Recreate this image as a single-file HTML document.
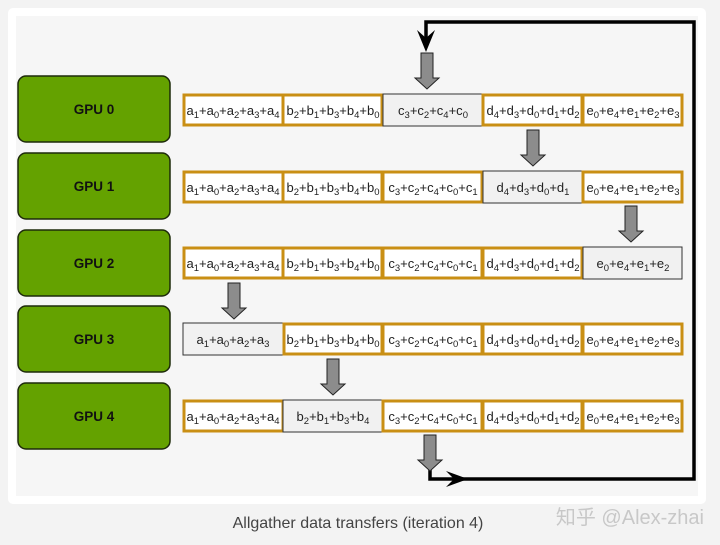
<!DOCTYPE html>
<html><head><meta charset="utf-8"><style>
body{margin:0;background:#f3f3f3;width:720px;height:545px;overflow:hidden}
svg{display:block}
</style></head><body>
<svg width="720" height="545" xmlns="http://www.w3.org/2000/svg" font-family="Liberation Sans, sans-serif">
<rect x="0" y="0" width="720" height="545" fill="#f3f3f3"/>
<rect x="8" y="8" width="698" height="496" rx="5" fill="#ffffff"/>
<rect x="16" y="16" width="682" height="480" fill="#f6f6f6"/>
<g id="gpus" font-weight="bold" font-size="13.5" text-anchor="middle" fill="#111">
<rect x="18" y="76" width="152" height="66" rx="8" fill="#64a200" stroke="#1d2a0a" stroke-width="1.5"/><text x="94" y="114">GPU 0</text>
<rect x="18" y="153" width="152" height="66" rx="8" fill="#64a200" stroke="#1d2a0a" stroke-width="1.5"/><text x="94" y="191">GPU 1</text>
<rect x="18" y="230" width="152" height="66" rx="8" fill="#64a200" stroke="#1d2a0a" stroke-width="1.5"/><text x="94" y="268">GPU 2</text>
<rect x="18" y="306" width="152" height="66" rx="8" fill="#64a200" stroke="#1d2a0a" stroke-width="1.5"/><text x="94" y="344">GPU 3</text>
<rect x="18" y="383" width="152" height="66" rx="8" fill="#64a200" stroke="#1d2a0a" stroke-width="1.5"/><text x="94" y="421">GPU 4</text>
</g>
<g font-size="13" fill="#222" text-anchor="middle">
<rect x="184" y="95" width="99" height="30" fill="#fff" stroke="#c98f14" stroke-width="3"/>
<rect x="283" y="95" width="99" height="30" fill="#fff" stroke="#c98f14" stroke-width="3"/>
<rect x="383" y="94" width="100" height="32" fill="#f1f1f1" stroke="#333" stroke-width="1"/>
<rect x="483" y="95" width="99" height="30" fill="#fff" stroke="#c98f14" stroke-width="3"/>
<rect x="583" y="95" width="99" height="30" fill="#fff" stroke="#c98f14" stroke-width="3"/>
<text x="233" y="115">a<tspan font-size="9.5" dy="3">1</tspan><tspan dy="-3">+a</tspan><tspan font-size="9.5" dy="3">0</tspan><tspan dy="-3">+a</tspan><tspan font-size="9.5" dy="3">2</tspan><tspan dy="-3">+a</tspan><tspan font-size="9.5" dy="3">3</tspan><tspan dy="-3">+a</tspan><tspan font-size="9.5" dy="3">4</tspan></text>
<text x="333" y="115">b<tspan font-size="9.5" dy="3">2</tspan><tspan dy="-3">+b</tspan><tspan font-size="9.5" dy="3">1</tspan><tspan dy="-3">+b</tspan><tspan font-size="9.5" dy="3">3</tspan><tspan dy="-3">+b</tspan><tspan font-size="9.5" dy="3">4</tspan><tspan dy="-3">+b</tspan><tspan font-size="9.5" dy="3">0</tspan></text>
<text x="433" y="115">c<tspan font-size="9.5" dy="3">3</tspan><tspan dy="-3">+c</tspan><tspan font-size="9.5" dy="3">2</tspan><tspan dy="-3">+c</tspan><tspan font-size="9.5" dy="3">4</tspan><tspan dy="-3">+c</tspan><tspan font-size="9.5" dy="3">0</tspan></text>
<text x="533" y="115">d<tspan font-size="9.5" dy="3">4</tspan><tspan dy="-3">+d</tspan><tspan font-size="9.5" dy="3">3</tspan><tspan dy="-3">+d</tspan><tspan font-size="9.5" dy="3">0</tspan><tspan dy="-3">+d</tspan><tspan font-size="9.5" dy="3">1</tspan><tspan dy="-3">+d</tspan><tspan font-size="9.5" dy="3">2</tspan></text>
<text x="633" y="115">e<tspan font-size="9.5" dy="3">0</tspan><tspan dy="-3">+e</tspan><tspan font-size="9.5" dy="3">4</tspan><tspan dy="-3">+e</tspan><tspan font-size="9.5" dy="3">1</tspan><tspan dy="-3">+e</tspan><tspan font-size="9.5" dy="3">2</tspan><tspan dy="-3">+e</tspan><tspan font-size="9.5" dy="3">3</tspan></text>
<rect x="184" y="172" width="99" height="30" fill="#fff" stroke="#c98f14" stroke-width="3"/>
<rect x="283" y="172" width="99" height="30" fill="#fff" stroke="#c98f14" stroke-width="3"/>
<rect x="383" y="172" width="99" height="30" fill="#fff" stroke="#c98f14" stroke-width="3"/>
<rect x="483" y="171" width="100" height="32" fill="#f1f1f1" stroke="#333" stroke-width="1"/>
<rect x="583" y="172" width="99" height="30" fill="#fff" stroke="#c98f14" stroke-width="3"/>
<text x="233" y="192">a<tspan font-size="9.5" dy="3">1</tspan><tspan dy="-3">+a</tspan><tspan font-size="9.5" dy="3">0</tspan><tspan dy="-3">+a</tspan><tspan font-size="9.5" dy="3">2</tspan><tspan dy="-3">+a</tspan><tspan font-size="9.5" dy="3">3</tspan><tspan dy="-3">+a</tspan><tspan font-size="9.5" dy="3">4</tspan></text>
<text x="333" y="192">b<tspan font-size="9.5" dy="3">2</tspan><tspan dy="-3">+b</tspan><tspan font-size="9.5" dy="3">1</tspan><tspan dy="-3">+b</tspan><tspan font-size="9.5" dy="3">3</tspan><tspan dy="-3">+b</tspan><tspan font-size="9.5" dy="3">4</tspan><tspan dy="-3">+b</tspan><tspan font-size="9.5" dy="3">0</tspan></text>
<text x="433" y="192">c<tspan font-size="9.5" dy="3">3</tspan><tspan dy="-3">+c</tspan><tspan font-size="9.5" dy="3">2</tspan><tspan dy="-3">+c</tspan><tspan font-size="9.5" dy="3">4</tspan><tspan dy="-3">+c</tspan><tspan font-size="9.5" dy="3">0</tspan><tspan dy="-3">+c</tspan><tspan font-size="9.5" dy="3">1</tspan></text>
<text x="533" y="192">d<tspan font-size="9.5" dy="3">4</tspan><tspan dy="-3">+d</tspan><tspan font-size="9.5" dy="3">3</tspan><tspan dy="-3">+d</tspan><tspan font-size="9.5" dy="3">0</tspan><tspan dy="-3">+d</tspan><tspan font-size="9.5" dy="3">1</tspan></text>
<text x="633" y="192">e<tspan font-size="9.5" dy="3">0</tspan><tspan dy="-3">+e</tspan><tspan font-size="9.5" dy="3">4</tspan><tspan dy="-3">+e</tspan><tspan font-size="9.5" dy="3">1</tspan><tspan dy="-3">+e</tspan><tspan font-size="9.5" dy="3">2</tspan><tspan dy="-3">+e</tspan><tspan font-size="9.5" dy="3">3</tspan></text>
<rect x="184" y="248" width="99" height="30" fill="#fff" stroke="#c98f14" stroke-width="3"/>
<rect x="283" y="248" width="99" height="30" fill="#fff" stroke="#c98f14" stroke-width="3"/>
<rect x="383" y="248" width="99" height="30" fill="#fff" stroke="#c98f14" stroke-width="3"/>
<rect x="483" y="248" width="99" height="30" fill="#fff" stroke="#c98f14" stroke-width="3"/>
<rect x="583" y="247" width="99" height="32" fill="#f1f1f1" stroke="#333" stroke-width="1"/>
<text x="233" y="268">a<tspan font-size="9.5" dy="3">1</tspan><tspan dy="-3">+a</tspan><tspan font-size="9.5" dy="3">0</tspan><tspan dy="-3">+a</tspan><tspan font-size="9.5" dy="3">2</tspan><tspan dy="-3">+a</tspan><tspan font-size="9.5" dy="3">3</tspan><tspan dy="-3">+a</tspan><tspan font-size="9.5" dy="3">4</tspan></text>
<text x="333" y="268">b<tspan font-size="9.5" dy="3">2</tspan><tspan dy="-3">+b</tspan><tspan font-size="9.5" dy="3">1</tspan><tspan dy="-3">+b</tspan><tspan font-size="9.5" dy="3">3</tspan><tspan dy="-3">+b</tspan><tspan font-size="9.5" dy="3">4</tspan><tspan dy="-3">+b</tspan><tspan font-size="9.5" dy="3">0</tspan></text>
<text x="433" y="268">c<tspan font-size="9.5" dy="3">3</tspan><tspan dy="-3">+c</tspan><tspan font-size="9.5" dy="3">2</tspan><tspan dy="-3">+c</tspan><tspan font-size="9.5" dy="3">4</tspan><tspan dy="-3">+c</tspan><tspan font-size="9.5" dy="3">0</tspan><tspan dy="-3">+c</tspan><tspan font-size="9.5" dy="3">1</tspan></text>
<text x="533" y="268">d<tspan font-size="9.5" dy="3">4</tspan><tspan dy="-3">+d</tspan><tspan font-size="9.5" dy="3">3</tspan><tspan dy="-3">+d</tspan><tspan font-size="9.5" dy="3">0</tspan><tspan dy="-3">+d</tspan><tspan font-size="9.5" dy="3">1</tspan><tspan dy="-3">+d</tspan><tspan font-size="9.5" dy="3">2</tspan></text>
<text x="633" y="268">e<tspan font-size="9.5" dy="3">0</tspan><tspan dy="-3">+e</tspan><tspan font-size="9.5" dy="3">4</tspan><tspan dy="-3">+e</tspan><tspan font-size="9.5" dy="3">1</tspan><tspan dy="-3">+e</tspan><tspan font-size="9.5" dy="3">2</tspan></text>
<rect x="183" y="323" width="100" height="32" fill="#f1f1f1" stroke="#333" stroke-width="1"/>
<rect x="284" y="324" width="98" height="30" fill="#fff" stroke="#c98f14" stroke-width="3"/>
<rect x="383" y="324" width="99" height="30" fill="#fff" stroke="#c98f14" stroke-width="3"/>
<rect x="483" y="324" width="99" height="30" fill="#fff" stroke="#c98f14" stroke-width="3"/>
<rect x="583" y="324" width="99" height="30" fill="#fff" stroke="#c98f14" stroke-width="3"/>
<text x="233" y="344">a<tspan font-size="9.5" dy="3">1</tspan><tspan dy="-3">+a</tspan><tspan font-size="9.5" dy="3">0</tspan><tspan dy="-3">+a</tspan><tspan font-size="9.5" dy="3">2</tspan><tspan dy="-3">+a</tspan><tspan font-size="9.5" dy="3">3</tspan></text>
<text x="333" y="344">b<tspan font-size="9.5" dy="3">2</tspan><tspan dy="-3">+b</tspan><tspan font-size="9.5" dy="3">1</tspan><tspan dy="-3">+b</tspan><tspan font-size="9.5" dy="3">3</tspan><tspan dy="-3">+b</tspan><tspan font-size="9.5" dy="3">4</tspan><tspan dy="-3">+b</tspan><tspan font-size="9.5" dy="3">0</tspan></text>
<text x="433" y="344">c<tspan font-size="9.5" dy="3">3</tspan><tspan dy="-3">+c</tspan><tspan font-size="9.5" dy="3">2</tspan><tspan dy="-3">+c</tspan><tspan font-size="9.5" dy="3">4</tspan><tspan dy="-3">+c</tspan><tspan font-size="9.5" dy="3">0</tspan><tspan dy="-3">+c</tspan><tspan font-size="9.5" dy="3">1</tspan></text>
<text x="533" y="344">d<tspan font-size="9.5" dy="3">4</tspan><tspan dy="-3">+d</tspan><tspan font-size="9.5" dy="3">3</tspan><tspan dy="-3">+d</tspan><tspan font-size="9.5" dy="3">0</tspan><tspan dy="-3">+d</tspan><tspan font-size="9.5" dy="3">1</tspan><tspan dy="-3">+d</tspan><tspan font-size="9.5" dy="3">2</tspan></text>
<text x="633" y="344">e<tspan font-size="9.5" dy="3">0</tspan><tspan dy="-3">+e</tspan><tspan font-size="9.5" dy="3">4</tspan><tspan dy="-3">+e</tspan><tspan font-size="9.5" dy="3">1</tspan><tspan dy="-3">+e</tspan><tspan font-size="9.5" dy="3">2</tspan><tspan dy="-3">+e</tspan><tspan font-size="9.5" dy="3">3</tspan></text>
<rect x="184" y="401" width="99" height="30" fill="#fff" stroke="#c98f14" stroke-width="3"/>
<rect x="283" y="400" width="100" height="32" fill="#f1f1f1" stroke="#333" stroke-width="1"/>
<rect x="383" y="401" width="99" height="30" fill="#fff" stroke="#c98f14" stroke-width="3"/>
<rect x="483" y="401" width="99" height="30" fill="#fff" stroke="#c98f14" stroke-width="3"/>
<rect x="583" y="401" width="99" height="30" fill="#fff" stroke="#c98f14" stroke-width="3"/>
<text x="233" y="421">a<tspan font-size="9.5" dy="3">1</tspan><tspan dy="-3">+a</tspan><tspan font-size="9.5" dy="3">0</tspan><tspan dy="-3">+a</tspan><tspan font-size="9.5" dy="3">2</tspan><tspan dy="-3">+a</tspan><tspan font-size="9.5" dy="3">3</tspan><tspan dy="-3">+a</tspan><tspan font-size="9.5" dy="3">4</tspan></text>
<text x="333" y="421">b<tspan font-size="9.5" dy="3">2</tspan><tspan dy="-3">+b</tspan><tspan font-size="9.5" dy="3">1</tspan><tspan dy="-3">+b</tspan><tspan font-size="9.5" dy="3">3</tspan><tspan dy="-3">+b</tspan><tspan font-size="9.5" dy="3">4</tspan></text>
<text x="433" y="421">c<tspan font-size="9.5" dy="3">3</tspan><tspan dy="-3">+c</tspan><tspan font-size="9.5" dy="3">2</tspan><tspan dy="-3">+c</tspan><tspan font-size="9.5" dy="3">4</tspan><tspan dy="-3">+c</tspan><tspan font-size="9.5" dy="3">0</tspan><tspan dy="-3">+c</tspan><tspan font-size="9.5" dy="3">1</tspan></text>
<text x="533" y="421">d<tspan font-size="9.5" dy="3">4</tspan><tspan dy="-3">+d</tspan><tspan font-size="9.5" dy="3">3</tspan><tspan dy="-3">+d</tspan><tspan font-size="9.5" dy="3">0</tspan><tspan dy="-3">+d</tspan><tspan font-size="9.5" dy="3">1</tspan><tspan dy="-3">+d</tspan><tspan font-size="9.5" dy="3">2</tspan></text>
<text x="633" y="421">e<tspan font-size="9.5" dy="3">0</tspan><tspan dy="-3">+e</tspan><tspan font-size="9.5" dy="3">4</tspan><tspan dy="-3">+e</tspan><tspan font-size="9.5" dy="3">1</tspan><tspan dy="-3">+e</tspan><tspan font-size="9.5" dy="3">2</tspan><tspan dy="-3">+e</tspan><tspan font-size="9.5" dy="3">3</tspan></text>
</g>
<path d="M430 468 V479 H694 V22 H426 V40" fill="none" stroke="#000" stroke-width="3.5"/>
<path d="M417 30 L426 52 L435 30 L426 38 Z" fill="#000"/>
<path d="M446 471 L468 479 L446 487 L454 479 Z" fill="#000"/>
<g fill="#8c8c8c" stroke="#222" stroke-width="1">
<path d="M421 53 H433 V78 H439 L427 89 L415 78 H421 Z"/>
<path d="M527 130 H539 V155 H545 L533 166 L521 155 H527 Z"/>
<path d="M625 206 H637 V231 H643 L631 242 L619 231 H625 Z"/>
<path d="M228 283 H240 V308 H246 L234 319 L222 308 H228 Z"/>
<path d="M327 359 H339 V384 H345 L333 395 L321 384 H327 Z"/>
<path d="M424 435 H436 V460 H442 L430 471 L418 460 H424 Z"/>
</g>
<text x="358" y="528" font-size="16" fill="#444" text-anchor="middle">Allgather data transfers (iteration 4)</text>
<text x="704" y="524" font-size="20" fill="#c8c8c8" text-anchor="end" font-family="Liberation Sans, Noto Sans CJK SC, sans-serif">知乎 @Alex-zhai</text>
</svg>
</body></html>
